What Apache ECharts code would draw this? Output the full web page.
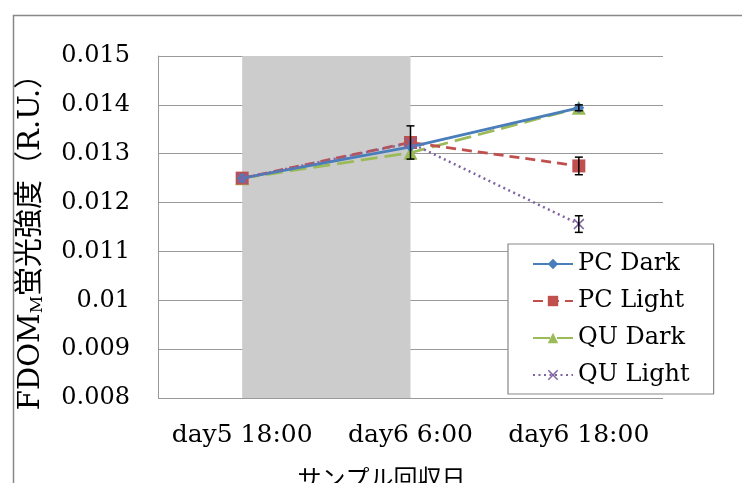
<!DOCTYPE html>
<html><head><meta charset="utf-8">
<script src="https://cdn.jsdelivr.net/npm/echarts@6/dist/echarts.min.js"></script>
<style>html,body{margin:0;padding:0;background:#fff}#c{width:742px;height:483px}</style>
</head><body><div id="c"></div>
<script>
const categories = ['day5 18:00', 'day6 6:00', 'day6 18:00'];
const yTicks = [0.008, 0.009, 0.01, 0.011, 0.012, 0.013, 0.014, 0.015];
const seriesNames = ['PC Dark', 'PC Light', 'QU Dark', 'QU Light'];
const pcDark = [0.0125, 0.01314, 0.01394];
const pcLight = [0.0125, 0.01323, 0.01275];
const quDark = [0.0125, 0.01302, 0.01394];
const quLight = [0.0125, 0.01322, 0.01156];
const pcDarkErr = [0, 0, 0.00006];
const pcLightErr = [0, 0.00034, 0.00018];
const quDarkErr = [0, 0, 0];
const quLightErr = [0, 0, 0.00017];
const shadedRange = ['day5 18:00', 'day6 6:00'];

const serif = '"DejaVu Serif", "Noto Sans CJK JP", serif';
const colors = ['#4a7ebb', '#c0504d', '#9bbb59', '#8064a2'];
const xPath = 'path://M0,1L1,0L5,4L9,0L10,1L6,5L10,9L9,10L5,6L1,10L0,9L4,5Z';

const values = [pcDark, pcLight, quDark, quLight];
const errs = [pcDarkErr, pcLightErr, quDarkErr, quLightErr];
const errData = [];
values.forEach((v, s) => v.forEach((val, i) => { if (errs[s][i] > 0) errData.push([i, val - errs[s][i], val + errs[s][i]]); }));

const chart = echarts.init(document.getElementById('c'));
chart.setOption({
  animation: false,
  graphic: [{ type: 'rect', left: 11, top: 13, shape: { width: 800, height: 600 }, style: { fill: 'none', stroke: '#888', lineWidth: 1.5 }, z: 0 }],
  grid: { left: 158, right: 79, top: 56, bottom: 85, containLabel: false, outerBoundsMode: 'none' },
  legend: {
    orient: 'vertical', left: 508, top: 244,
    backgroundColor: '#fff', borderColor: '#888', borderWidth: 1.2,
    padding: [8, 24, 7, 24], itemGap: 13, itemWidth: 40, itemHeight: 13,
    textStyle: { fontFamily: serif, fontSize: 24, color: '#000' },
    data: seriesNames
  },
  xAxis: {
    type: 'category', data: categories, boundaryGap: true,
    axisLine: { show: false }, axisTick: { show: false },
    axisLabel: { fontFamily: serif, fontSize: 25, color: '#000', margin: 25, interval: 0 },
    name: 'サンプル回収日', nameLocation: 'middle', nameGap: 68,
    nameTextStyle: { fontFamily: '"Noto Sans CJK JP"', fontSize: 24, color: '#000', padding: [0, 58, 0, 0] }
  },
  yAxis: {
    type: 'value', min: yTicks[0], max: yTicks[yTicks.length - 1], interval: 0.001,
    axisLine: { show: true, lineStyle: { color: '#999', width: 1 } }, axisTick: { show: false },
    splitLine: { lineStyle: { color: '#999', width: 1 } },
    axisLabel: { fontFamily: serif, fontSize: 24, color: '#000', margin: 28,
      formatter: v => { const t = yTicks.find(x => Math.abs(x - v) < 1e-9); return t === undefined ? '' : String(t); } },
    name: '{n|FDOM}{s|M}{n|蛍光強度（R.U.）}', nameLocation: 'middle', nameRotate: 90, nameGap: 112,
    nameTextStyle: { padding: [0, 16, 0, 0], rich: {
      n: { fontFamily: serif, fontSize: 29, color: '#000' },
      s: { fontFamily: serif, fontSize: 17, color: '#000', verticalAlign: 'bottom', padding: [13, 0, 0, 0] }
    } }
  },
  series: [
    { name: 'PC Dark', type: 'line', data: pcDark, color: colors[0], symbol: 'diamond', symbolSize: 11,
      lineStyle: { width: 2.8 }, z: 5,
      markArea: { silent: true, itemStyle: { color: '#cccccc' }, data: [[{ xAxis: shadedRange[0] }, { xAxis: shadedRange[1] }]], z: 1 } },
    { name: 'PC Light', type: 'line', data: pcLight, color: colors[1], symbol: 'rect', symbolSize: 13,
      lineStyle: { width: 2.8, type: [10, 6] }, z: 4 },
    { name: 'QU Dark', type: 'line', data: quDark, color: colors[2], symbol: 'triangle', symbolSize: 14,
      lineStyle: { width: 2.8, type: [17, 7] }, z: 3 },
    { name: 'QU Light', type: 'line', data: quLight, color: colors[3], symbol: xPath, symbolSize: 11,
      lineStyle: { width: 2.5, type: [2, 3.5] }, z: 6 },
    { type: 'custom', name: 'err', data: errData, z: 7, silent: true,
      renderItem: (params, api) => {
        const x = api.value(0);
        const lo = api.coord([x, api.value(1)]);
        const hi = api.coord([x, api.value(2)]);
        const w = 4;
        const st = { stroke: '#000', lineWidth: 1.5, fill: 'none' };
        return { type: 'group', children: [
          { type: 'line', shape: { x1: lo[0], y1: lo[1], x2: hi[0], y2: hi[1] }, style: st },
          { type: 'line', shape: { x1: lo[0] - w, y1: lo[1], x2: lo[0] + w, y2: lo[1] }, style: st },
          { type: 'line', shape: { x1: hi[0] - w, y1: hi[1], x2: hi[0] + w, y2: hi[1] }, style: st }
        ] };
      } }
  ]
});
</script></body></html>
